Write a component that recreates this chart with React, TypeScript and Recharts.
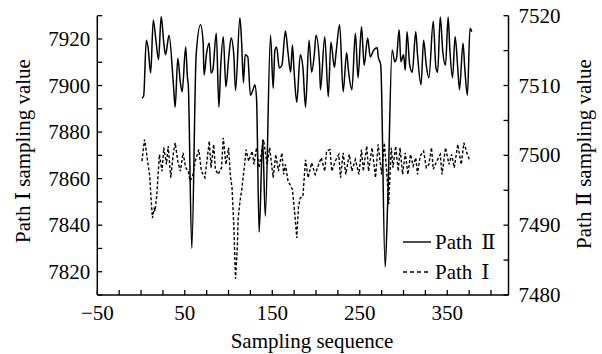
import React from "react";
import { Legend, Line, LineChart, XAxis, YAxis } from "recharts";

// sampling index and values
const pathTwoSeq = [
  1, 3, 6, 8, 11, 14, 17, 20, 23, 26, 28, 32, 37, 39, 42, 45, 47, 51, 53, 54, 58, 63, 68, 71, 72, 75, 78, 80, 82, 86,
  89, 91, 94, 97, 100, 103, 106, 108, 113, 115, 117, 119, 122, 125, 128, 130, 132, 135, 139, 142, 148, 151, 153, 155,
  158, 161, 165, 168, 171, 173, 175, 178, 182, 185, 188, 192, 195, 198, 200, 204, 205, 210, 214, 217, 221, 223, 227,
  231, 235, 237, 241, 245, 248, 252, 255, 259, 262, 266, 270, 271, 274, 279, 282, 287, 290, 292, 295, 297, 300, 302,
  304, 307, 310, 314, 316, 320, 323, 326, 329, 334, 337, 339, 342, 345, 348, 351, 353, 356, 359, 362, 364, 368, 370,
  373, 376, 378,
];
const pathTwoValue = [
  7508.2, 7508.5, 7516.5, 7515.5, 7511.8, 7519.4, 7516.5, 7513.7, 7519.9, 7516.1, 7514.4, 7517.2, 7510.1, 7506.9,
  7513.9, 7510.4, 7509.1, 7515.5, 7511.2, 7510.1, 7486.7, 7514.4, 7518.7, 7516.1, 7511.5, 7514.7, 7516.1, 7511.8,
  7512.2, 7517.5, 7506.9, 7512.6, 7517, 7509.8, 7513.7, 7516.8, 7514.4, 7509.3, 7519.7, 7516.1, 7510.4, 7514.4,
  7514.1, 7508.6, 7509.4, 7510.1, 7508.2, 7489, 7502.2, 7491.3, 7517.2, 7509.6, 7515.1, 7515.5, 7512.5, 7512.9,
  7517.8, 7514.7, 7511.9, 7515.8, 7511.9, 7507.6, 7514.4, 7512.6, 7506.9, 7516.5, 7511.9, 7514.4, 7517.2, 7513.2,
  7509.4, 7517, 7508.4, 7516.2, 7512.6, 7514.8, 7518.7, 7509.1, 7514.7, 7512.2, 7509.4, 7517.5, 7511.1, 7518.4,
  7512.9, 7516.8, 7514.1, 7515.1, 7515.4, 7514.2, 7512.9, 7484, 7493.6, 7515.1, 7513.4, 7513.9, 7518, 7513.4, 7514.4,
  7512.2, 7517.7, 7513, 7511.9, 7517.7, 7514.4, 7510.1, 7516.5, 7512.9, 7511.1, 7519.2, 7512.6, 7511.9, 7519.8,
  7514.7, 7512.9, 7519.8, 7515.1, 7511.1, 7517, 7512.5, 7509.4, 7516.1, 7512.5, 7508.6, 7518.2, 7517.7,
];

const pathOneSeq = [
  1, 4, 6, 8, 10, 11, 13, 15, 16, 18, 21, 24, 26, 29, 31, 34, 37, 39, 42, 45, 48, 51, 54, 56, 59, 62, 66, 69, 73, 78,
  80, 83, 85, 88, 92, 94, 97, 100, 102, 104, 106, 108, 110, 111, 113, 115, 118, 120, 123, 127, 129, 132, 135, 140, 144,
  147, 151, 154, 157, 161, 163, 165, 168, 173, 176, 178, 180, 182, 185, 188, 191, 195, 199, 203, 206, 210, 212, 216,
  218, 222, 226, 228, 231, 234, 238, 241, 245, 249, 252, 254, 258, 260, 264, 268, 271, 275, 278, 281, 283, 286, 288,
  291, 294, 296, 299, 302, 305, 308, 311, 314, 316, 319, 323, 326, 329, 332, 334, 338, 342, 344, 348, 352, 355, 358,
  362, 366, 369, 373, 376,
];
const pathOneValue = [
  7867.5, 7876.8, 7871.8, 7866.1, 7861, 7854, 7843, 7847, 7846, 7853, 7870.4, 7863.2, 7873.3, 7866.1, 7874, 7860.4,
  7871.1, 7875.4, 7867.5, 7863.2, 7871.1, 7864.7, 7863.2, 7859, 7861.1, 7867.5, 7872.5, 7863.2, 7860.4, 7876.1,
  7864.7, 7874.7, 7864, 7861.8, 7864.7, 7877.5, 7866.1, 7873.3, 7861.8, 7856, 7840, 7817, 7830, 7843, 7850, 7855,
  7864.7, 7872.5, 7867.5, 7871.8, 7866.1, 7873.3, 7864.7, 7876.8, 7866.1, 7873.3, 7860.4, 7870.4, 7863.2, 7871.1,
  7861.8, 7866.1, 7859, 7855.4, 7843.8, 7834.5, 7848.1, 7851.7, 7852.4, 7868.1, 7860.4, 7866.8, 7861.8, 7866.1, 7869,
  7863.2, 7871.8, 7872.5, 7863.2, 7867.5, 7870.4, 7860.4, 7871.1, 7861.8, 7870.4, 7863.2, 7868.2, 7861.8, 7872.5,
  7863.2, 7874, 7863.2, 7873.3, 7860.4, 7874.7, 7861.8, 7875.4, 7862, 7849, 7873.3, 7864.7, 7874, 7863.2, 7873.3,
  7861.8, 7871.1, 7861.8, 7870.4, 7865.4, 7869, 7861.8, 7869.7, 7871.8, 7864.7, 7866.1, 7873.3, 7864, 7867.5, 7870.4,
  7861.8, 7873.3, 7866.1, 7870.4, 7864.7, 7874.7, 7866.1, 7875.4, 7870.4, 7867.5,
];

const xTicks = [-50, -25, 0, 25, 50, 75, 100, 125, 150, 175, 200, 225, 250, 275, 300, 325, 350, 375, 400];
const xTickLabels = [-50, 50, 150, 250, 350];
const leftTicks = [7810, 7820, 7830, 7840, 7850, 7860, 7870, 7880, 7890, 7900, 7910, 7920, 7930];
const leftTickLabels = [7820, 7840, 7860, 7880, 7900, 7920];
const rightTicks = [7480, 7485, 7490, 7495, 7500, 7505, 7510, 7515, 7520];
const rightTickLabels = [7480, 7490, 7500, 7510, 7520];

const pathTwoData = pathTwoSeq.map((seq, i) => ({ seq, value: pathTwoValue[i] }));
const pathOneData = pathOneSeq.map((seq, i) => ({ seq, value: pathOneValue[i] }));

const FONT = "'Liberation Serif', 'DejaVu Serif', serif";
const TXT = { fontFamily: FONT, fontSize: 21, fill: "#000" };

const fmt = (v: number) => (v < 0 ? `\u2212${Math.abs(v)}` : `${v}`);

function XTick({ x, y, payload }: any) {
  const show = xTickLabels.includes(payload.value);
  return (
    <g>
      <line x1={x} y1={y} x2={x} y2={y - 5} stroke="#000" strokeWidth={1.3} />
      {show && (
        <text x={x} y={y + 25} textAnchor="middle" {...TXT}>
          {fmt(payload.value)}
        </text>
      )}
    </g>
  );
}

function LeftTick({ x, y, payload }: any) {
  const show = leftTickLabels.includes(payload.value);
  return (
    <g>
      <line x1={x} y1={y} x2={x + 5} y2={y} stroke="#000" strokeWidth={1.3} />
      {show && (
        <text x={x - 7} y={y + 7} textAnchor="end" {...TXT}>
          {payload.value}
        </text>
      )}
    </g>
  );
}

function RightTick({ x, y, payload }: any) {
  const show = rightTickLabels.includes(payload.value);
  return (
    <g>
      <line x1={x} y1={y} x2={x - 5} y2={y} stroke="#000" strokeWidth={1.3} />
      {show && (
        <text x={x + 10} y={y + 7} textAnchor="start" {...TXT}>
          {payload.value}
        </text>
      )}
    </g>
  );
}

function LegendBox() {
  return (
    <svg width={110} height={58} style={{ display: "block" }}>
      <line x1={3} y1={14} x2={31} y2={14} stroke="#000" strokeWidth={1.4} />
      <text x={35} y={21} {...TXT}>
        <tspan>Path</tspan>
        <tspan dx={9}>Ⅱ</tspan>
      </text>
      <line x1={3} y1={44} x2={31} y2={44} stroke="#000" strokeWidth={1.4} strokeDasharray="4 3" />
      <text x={35} y={51} {...TXT}>
        <tspan>Path</tspan>
        <tspan dx={9}>Ⅰ</tspan>
      </text>
    </svg>
  );
}

const axisLine = { stroke: "#000", strokeWidth: 1.5 };

export default function App() {
  return (
    <div style={{ position: "absolute", left: 0, top: 0, width: 602, height: 354, background: "#fff" }}>
      <LineChart width={602} height={354} margin={{ top: 15.7, right: 33.5, bottom: 29, left: 37.3 }}>
        <XAxis
          type="number"
          dataKey="seq"
          domain={[-50, 420]}
          ticks={xTicks}
          interval={0}
          allowDataOverflow
          height={30}
          tickSize={0}
          tickMargin={0}
          tickLine={false}
          axisLine={axisLine}
          tick={<XTick />}
          label={{
            content: () => (
              <text x={312} y={348} textAnchor="middle" {...TXT}>
                Sampling sequence
              </text>
            ),
          }}
        />
        <YAxis
          yAxisId="left"
          orientation="left"
          domain={[7810, 7930]}
          ticks={leftTicks}
          interval={0}
          allowDataOverflow
          width={60}
          tickSize={0}
          tickMargin={0}
          tickLine={false}
          axisLine={axisLine}
          tick={<LeftTick />}
          label={{
            content: () => (
              <text x={30} y={151} textAnchor="middle" transform="rotate(-90 30 151)" {...TXT}>
                Path Ⅰ sampling value
              </text>
            ),
          }}
        />
        <YAxis
          yAxisId="right"
          orientation="right"
          domain={[7480, 7520]}
          ticks={rightTicks}
          interval={0}
          allowDataOverflow
          width={60}
          tickSize={0}
          tickMargin={0}
          tickLine={false}
          axisLine={axisLine}
          tick={<RightTick />}
          label={{
            content: () => (
              <text x={591} y={154} textAnchor="middle" transform="rotate(-90 591 154)" {...TXT}>
                Path Ⅱ sampling value
              </text>
            ),
          }}
        />
        <Line
          yAxisId="right"
          data={pathTwoData}
          dataKey="value"
          type="monotone"
          stroke="#000"
          strokeWidth={1.5}
          dot={false}
          activeDot={false}
          isAnimationActive={false}
        />
        <Line
          yAxisId="left"
          data={pathOneData}
          dataKey="value"
          type="linear"
          stroke="#000"
          strokeWidth={1.4}
          strokeDasharray="3 2"
          dot={false}
          activeDot={false}
          isAnimationActive={false}
        />
        <Legend
          layout="horizontal"
          verticalAlign="middle"
          align="center"
          content={() => <LegendBox />}
          wrapperStyle={{ left: 400, top: 228, width: 110, height: 58 }}
        />
      </LineChart>
    </div>
  );
}
